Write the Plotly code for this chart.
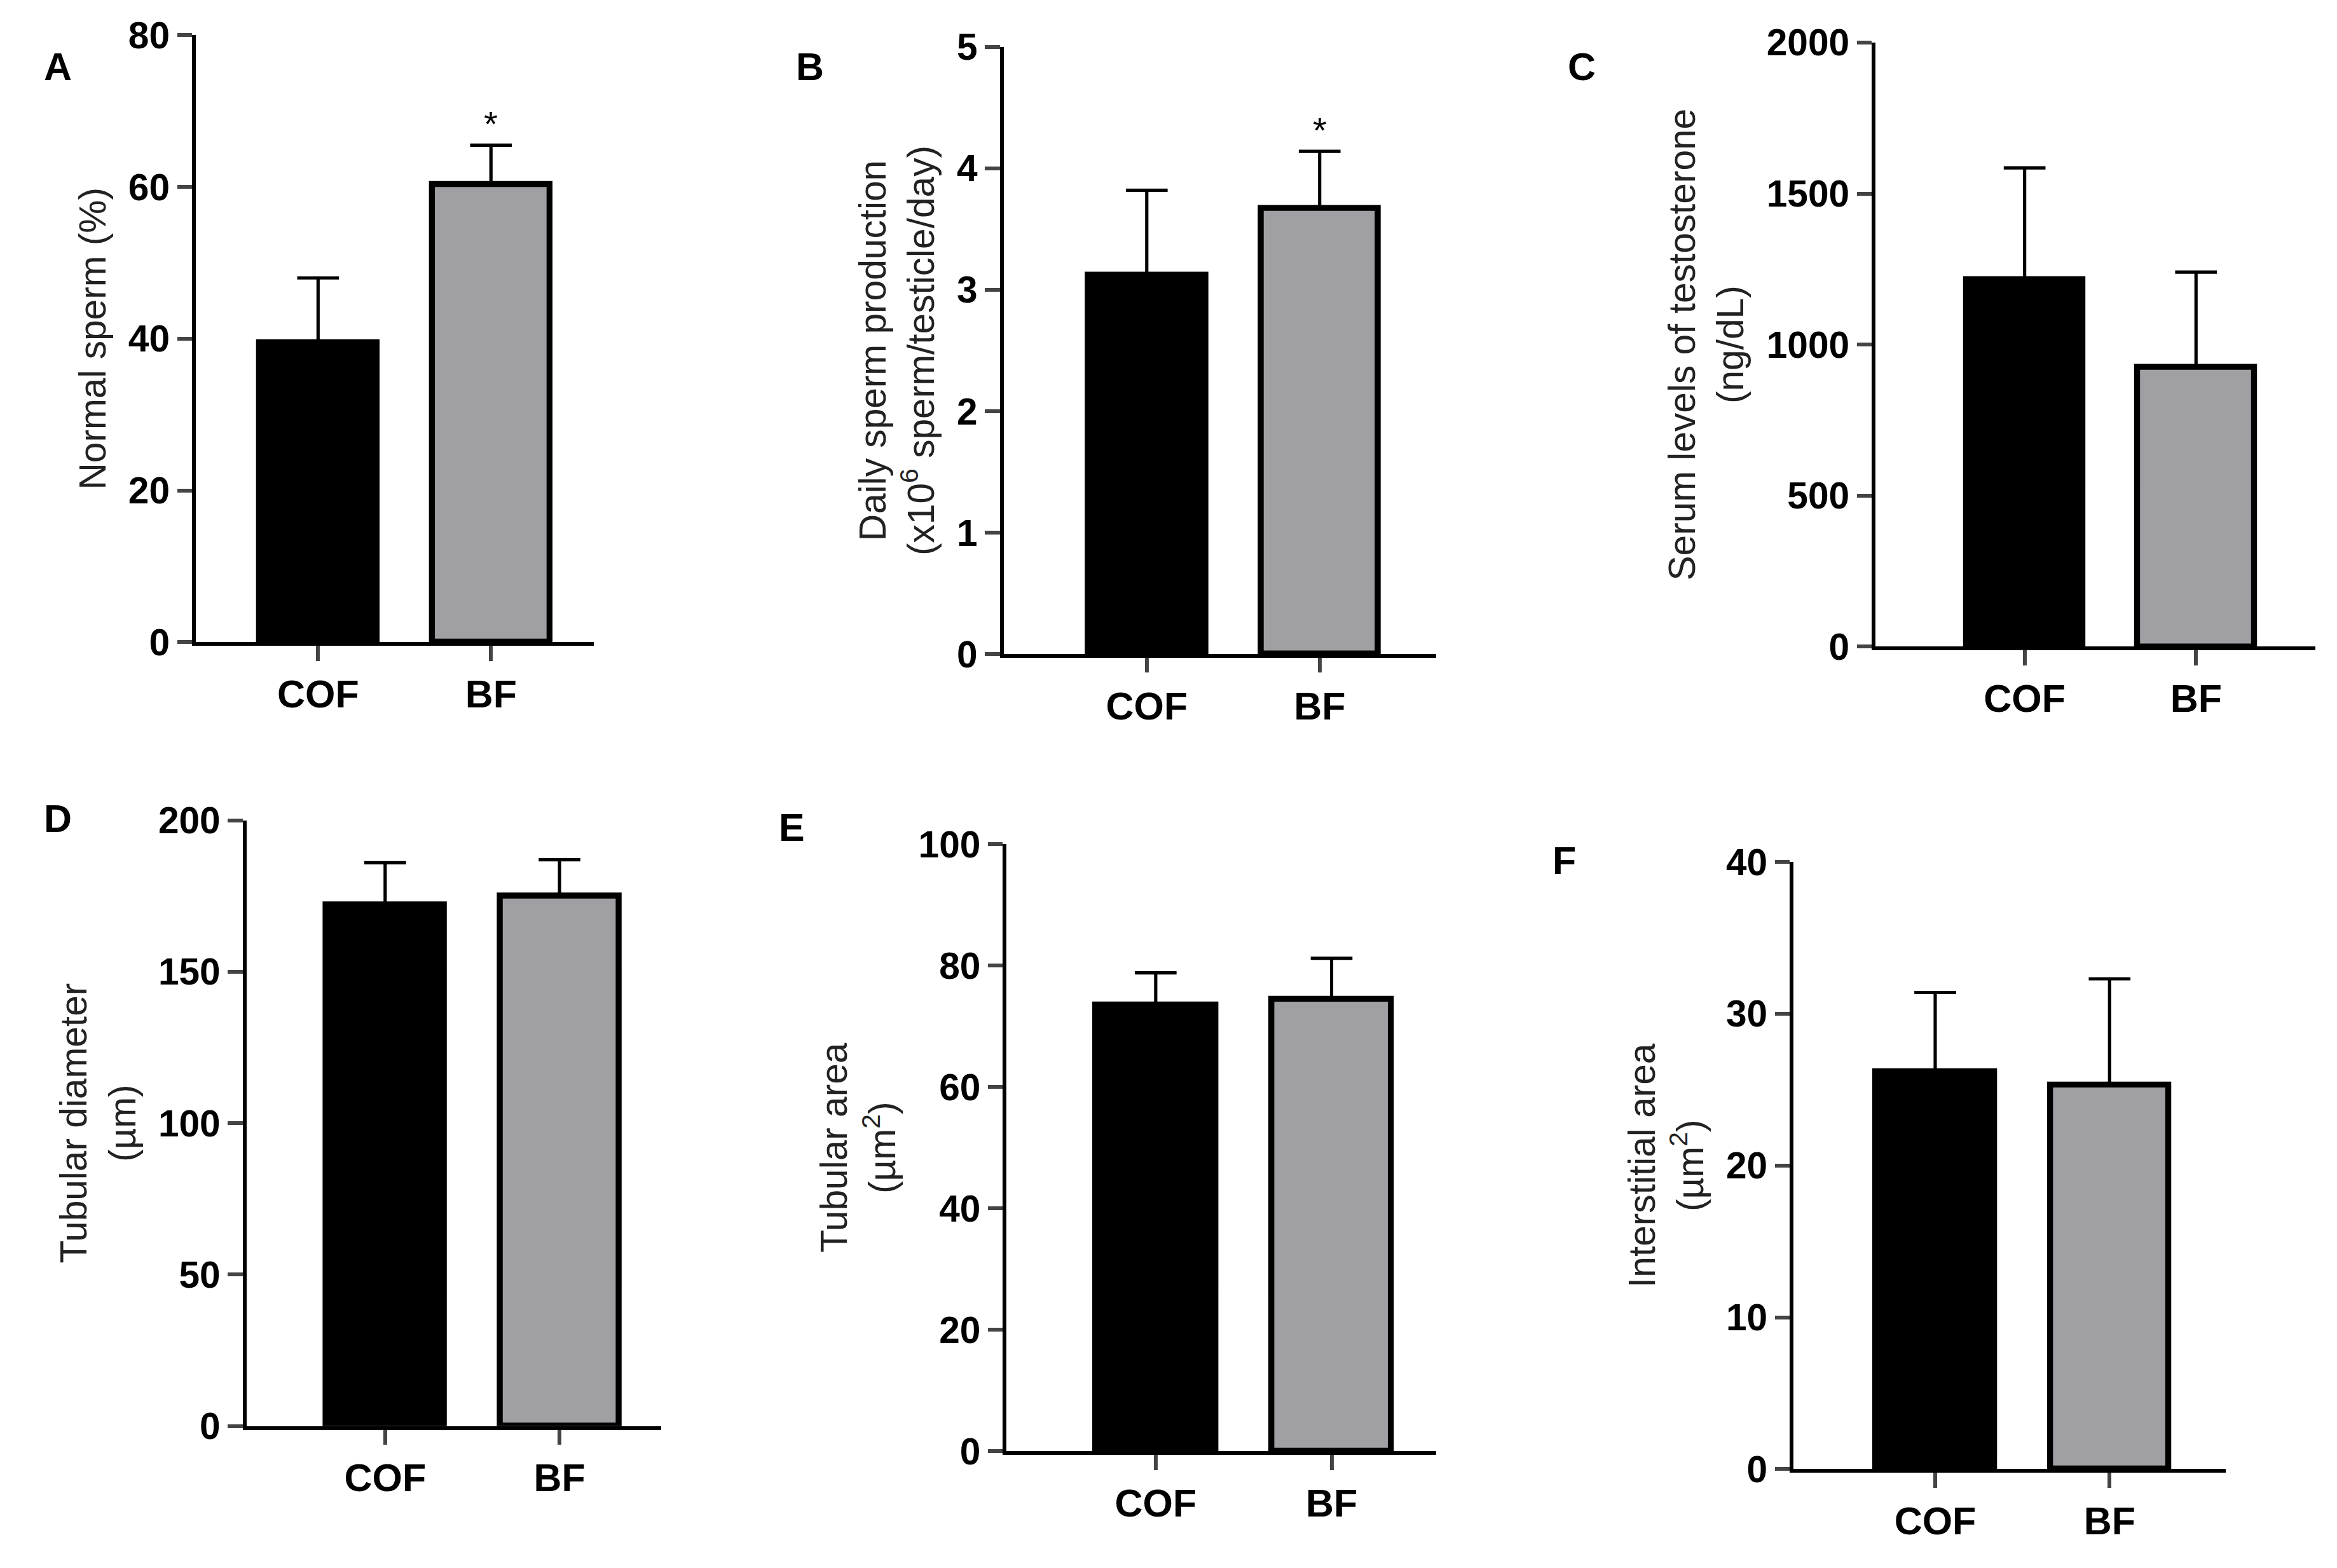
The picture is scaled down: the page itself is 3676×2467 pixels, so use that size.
import plotly.graph_objects as go

W, H = 3676, 2467
S = W / 1568.0  # reference drawn at ~1568 px wide

groups = ["COF", "BF"]
panels = ["A", "B", "C", "D", "E", "F"]
means = {
    "A": [39.5, 60.3], "B": [3.12, 3.67], "C": [1215, 925],
    "D": [172, 175], "E": [73.5, 74.5], "F": [26.2, 25.3],
}
sd = {
    "A": [8.5, 5.2], "B": [0.70, 0.47], "C": [370, 315],
    "D": [14, 12], "E": [5.3, 6.7], "F": [5.2, 7.0],
}
ymax = {"A": 80, "B": 5, "C": 2000, "D": 200, "E": 100, "F": 40}
ydtick = {"A": 20, "B": 1, "C": 500, "D": 50, "E": 20, "F": 10}
ytitles = {
    "A": "Normal sperm (%)",
    "B": "Daily sperm production<br>(x10<sup>6</sup> sperm/testicle/day)",
    "C": "Serum levels of testosterone<br>(ng/dL)",
    "D": "Tubular diameter<br>(µm)",
    "E": "Tubular area<br>(µm<sup>2</sup>)",
    "F": "Interstitial area<br>(µm<sup>2</sup>)",
}
signif = {"A": True, "B": True, "C": False, "D": False, "E": False, "F": False}

# layout in reference pixels: axis x, axis right end, y of top value, y of zero, bar centres
geom = {
    "A": (128, 395, 22, 431, 210, 326),
    "B": (670, 960, 30, 439, 766, 882),
    "C": (1255, 1550, 27, 434, 1355, 1470),
    "D": (162, 440, 551, 959, 255, 372),
    "E": (672, 960, 567, 976, 772, 890),
    "F": (1200, 1490, 579, 988, 1295, 1412),
}
letter_pos = {"A": (25, 28), "B": (540, 28), "C": (1068, 28),
              "D": (25, 550), "E": (528, 556), "F": (1055, 578)}


def fy(py):
    # vertical paper fraction for a reference pixel row (corrected for render offset)
    return 1 - ((py - 15.5) / 0.9776) / 1052


FONT = "Liberation Sans"
fig = go.Figure()
annotations = []
for i, p in enumerate(panels):
    ax = "" if i == 0 else str(i + 1)
    x0, x1, ytop, y0, c0, c1 = geom[p]
    step = c1 - c0
    xr = [(x0 - c0) / step, (x1 - c0) / step]
    fig.add_trace(go.Bar(
        x=[0, 1], y=means[p], width=0.68,
        marker=dict(color=["#000000", "#a0a0a4"], line=dict(color="black", width=4 * S)),
        error_y=dict(type="data", array=sd[p], arrayminus=[0, 0], symmetric=False,
                     color="black", thickness=2.2 * S, width=14 * S),
        xaxis="x" + ax, yaxis="y" + ax, showlegend=False,
    ))
    fig.layout["xaxis" + ax] = dict(
        domain=[x0 / 1568, x1 / 1568], range=xr, anchor="y" + ax,
        tickvals=[0, 1], ticktext=groups, showline=True, linecolor="black",
        linewidth=2.5 * S, ticks="outside", ticklen=10 * S, tickwidth=2.5 * S,
        showgrid=False, zeroline=False,
        tickfont=dict(family=FONT, size=26 * S, color="black", weight="bold"),
    )
    fig.layout["yaxis" + ax] = dict(
        domain=[fy(y0), fy(ytop)], range=[0, ymax[p]], anchor="x" + ax,
        dtick=ydtick[p], showline=True, linecolor="black", linewidth=2.5 * S,
        ticks="outside", ticklen=10 * S, tickwidth=2.5 * S, showgrid=False,
        zeroline=False,
        tickfont=dict(family=FONT, size=25 * S, color="black", weight="bold"),
        title=dict(text=ytitles[p], font=dict(family=FONT, size=25 * S, color="#222"),
                   standoff=8 * S),
    )
    if signif[p]:
        annotations.append(dict(x=1, y=means[p][1] + sd[p][1], xref="x" + ax, yref="y" + ax,
                                text="*", showarrow=False, yanchor="bottom",
                                font=dict(family=FONT, size=24 * S, color="black")))
    lx, ly = letter_pos[p]
    annotations.append(dict(x=lx / 1568, y=fy(ly), xref="paper", yref="paper",
                            text="<b>%s</b>" % p, showarrow=False,
                            font=dict(family=FONT, size=26 * S, color="black")))

fig.update_layout(width=W, height=H, margin=dict(l=0, r=0, t=0, b=0),
                  plot_bgcolor="white", paper_bgcolor="white",
                  annotations=annotations, bargap=0)
fig.write_html("out.html")
